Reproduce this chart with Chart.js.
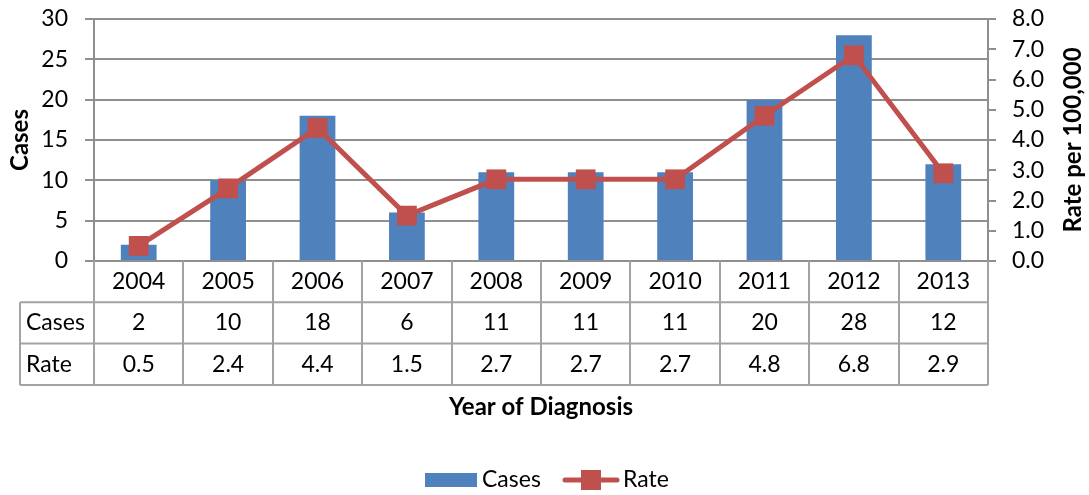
<!DOCTYPE html>
<html>
<head>
<meta charset="utf-8">
<script src="https://cdn.jsdelivr.net/npm/chart.js@4.4.0/dist/chart.umd.min.js"></script>
<style>
  html, body { margin: 0; padding: 0; background: #fff; }
  canvas { display: block; }
</style>
</head>
<body>
<canvas id="chart" width="1089" height="495"></canvas>
<script>
const years = ['2004','2005','2006','2007','2008','2009','2010','2011','2012','2013'];
const cases = [2, 10, 18, 6, 11, 11, 11, 20, 28, 12];
const rates = [0.5, 2.4, 4.4, 1.5, 2.7, 2.7, 2.7, 4.8, 6.8, 2.9];

const FONT = 'Lato, "Open Sans", sans-serif';
const TXT = 23;
const BOLD = 24;
const GRID = '#8f8f8f';
const BLUE = '#4F81BD';
const RED = '#C0504D';

// data table under the plot, axis titles and legend
const tablePlugin = {
  id: 'dataTable',
  afterDraw(chart) {
    const ctx = chart.ctx;
    const a = chart.chartArea;
    const x = chart.scales.x;
    const n = years.length;
    const w = (a.right - a.left) / n;
    const rowH = 41.3;
    const rows = [a.bottom, a.bottom + rowH, a.bottom + 2 * rowH, a.bottom + 3 * rowH];
    const tableLeft = 20;

    ctx.save();
    ctx.strokeStyle = '#a3a3a3';
    ctx.lineWidth = 2;
    ctx.beginPath();
    for (let i = 0; i <= n; i++) {
      const px = Math.round(a.left + i * w);
      ctx.moveTo(px, a.bottom);
      ctx.lineTo(px, rows[3]);
    }
    for (let r = 1; r <= 3; r++) {
      ctx.moveTo(tableLeft, rows[r]);
      ctx.lineTo(a.right, rows[r]);
    }
    ctx.moveTo(tableLeft, rows[1]);
    ctx.lineTo(tableLeft, rows[3]);
    ctx.stroke();

    ctx.fillStyle = '#000';
    ctx.font = TXT + 'px ' + FONT;
    ctx.textBaseline = 'middle';
    ctx.textAlign = 'center';
    years.forEach((y, i) => {
      const cx = x.getPixelForValue(i);
      ctx.fillText(y, cx, (rows[0] + rows[1]) / 2);
      ctx.fillText(String(cases[i]), cx, (rows[1] + rows[2]) / 2);
      ctx.fillText(rates[i].toFixed(1), cx, (rows[2] + rows[3]) / 2);
    });
    ctx.textAlign = 'left';
    ctx.fillText('Cases', 26, (rows[1] + rows[2]) / 2);
    ctx.fillText('Rate', 26, (rows[2] + rows[3]) / 2);

    ctx.font = 'bold ' + BOLD + 'px ' + FONT;
    ctx.textAlign = 'center';
    ctx.fillText('Year of Diagnosis', (a.left + a.right) / 2, 407);

    // right axis title, reads bottom to top
    ctx.save();
    ctx.translate(1073, (a.top + a.bottom) / 2);
    ctx.rotate(-Math.PI / 2);
    ctx.fillText('Rate per 100,000', 0, 0);
    ctx.restore();

    // legend
    const ly = 480;
    ctx.fillStyle = BLUE;
    ctx.fillRect(425, ly - 7, 52, 14);
    ctx.fillStyle = '#000';
    ctx.font = TXT + 'px ' + FONT;
    ctx.textAlign = 'left';
    ctx.fillText('Cases', 482, ly);
    ctx.strokeStyle = RED;
    ctx.lineWidth = 5;
    ctx.lineCap = 'round';
    ctx.beginPath();
    ctx.moveTo(565, ly);
    ctx.lineTo(617, ly);
    ctx.stroke();
    ctx.fillStyle = RED;
    ctx.fillRect(581, ly - 10, 20, 20);
    ctx.fillStyle = '#000';
    ctx.fillText('Rate', 623, ly);
    ctx.restore();
  }
};

// fixed axis widths, no extra room above/below for the end labels
function fitAxis(width) {
  return s => { s.width = width; s.paddingTop = 0; s.paddingBottom = 0; };
}

new Chart(document.getElementById('chart'), {
  data: {
    labels: years,
    datasets: [
      {
        type: 'line',
        label: 'Rate',
        data: rates,
        yAxisID: 'y1',
        order: 0,
        borderColor: RED,
        backgroundColor: RED,
        borderWidth: 5,
        pointStyle: 'rect',
        pointRadius: 14,
        pointBorderWidth: 0,
        tension: 0
      },
      {
        type: 'bar',
        label: 'Cases',
        data: cases,
        yAxisID: 'y',
        order: 1,
        backgroundColor: BLUE,
        categoryPercentage: 1,
        barPercentage: 0.4
      }
    ]
  },
  options: {
    responsive: false,
    animation: false,
    devicePixelRatio: 1,
    layout: { padding: { top: 19, bottom: 234, left: 0, right: 0 } },
    plugins: { legend: { display: false }, tooltip: { enabled: false } },
    scales: {
      x: {
        type: 'category',
        offset: true,
        display: false
      },
      y: {
        position: 'left',
        min: 0, max: 30,
        ticks: { stepSize: 5, padding: 17, color: '#000', font: { family: FONT, size: TXT } },
        grid: { color: GRID, lineWidth: 2, tickLength: 9 },
        border: { color: GRID, width: 2 },
        title: { display: true, text: 'Cases', color: '#000', padding: { top: 6, bottom: 0 }, font: { family: FONT, size: BOLD, weight: 'bold' } },
        afterFit: fitAxis(94)
      },
      y1: {
        position: 'right',
        min: 0, max: 8,
        ticks: { stepSize: 1, autoSkip: false, padding: 16, color: '#000', font: { family: FONT, size: TXT }, callback: v => v.toFixed(1) },
        grid: { drawOnChartArea: false, color: GRID, lineWidth: 2, tickLength: 8 },
        border: { color: GRID, width: 2 },
        afterFit: fitAxis(101)
      }
    }
  },
  plugins: [tablePlugin]
});
</script>
</body>
</html>
